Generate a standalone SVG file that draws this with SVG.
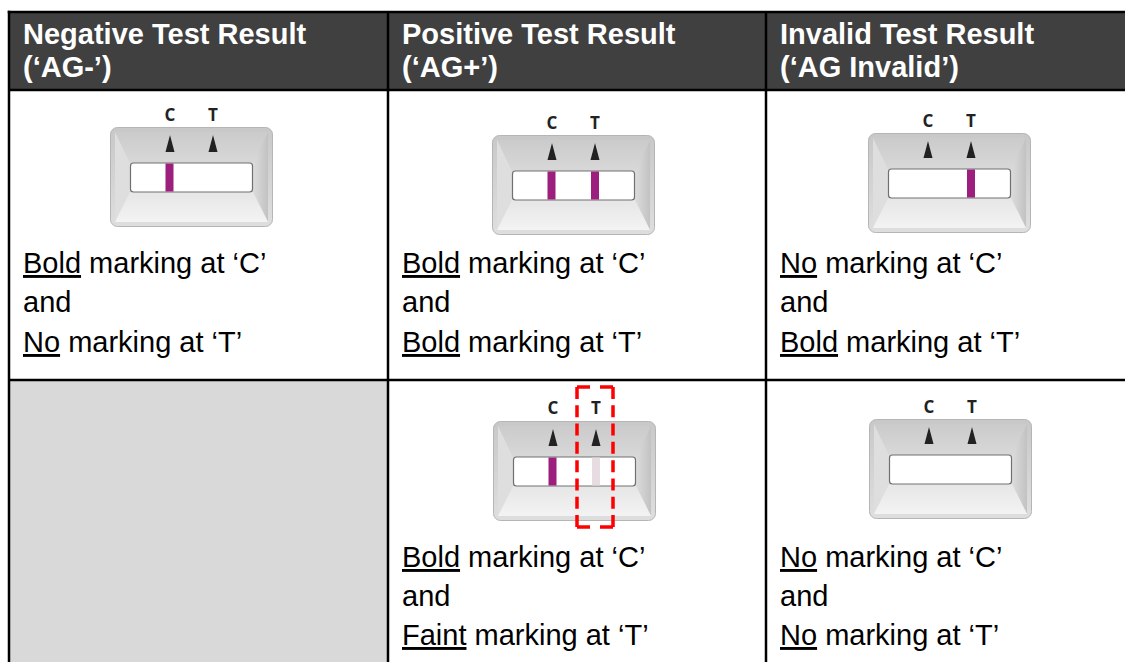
<svg xmlns="http://www.w3.org/2000/svg" width="1125" height="662" viewBox="0 0 1125 662">
<style>
.hd{font-family:"Liberation Sans",Arial,sans-serif;font-weight:bold;font-size:29px;fill:#fff}
.bd{font-family:"Liberation Sans",Arial,sans-serif;font-size:29px;fill:#000}
.u{text-decoration:underline}
.ct{font-family:"Open Sans","DejaVu Sans",sans-serif;font-weight:bold;font-size:17px;fill:#222;text-anchor:middle}
.grid{stroke:#000;stroke-width:2.5;fill:none}
.boldline{fill:#9c1f7e}
.faintline{fill:#e6dce2}
.dash{stroke:#ff0000;stroke-width:3.5;fill:none}
</style>
<defs>
<linearGradient id="gBody" x1="0" y1="0" x2="0" y2="1"><stop offset="0" stop-color="#c8c8c8"/><stop offset="1" stop-color="#dedede"/></linearGradient>
<linearGradient id="gTop" x1="0" y1="0" x2="0" y2="1"><stop offset="0" stop-color="#cbcbcb"/><stop offset="1" stop-color="#d8d8d8"/></linearGradient>
<linearGradient id="gRight" x1="0" y1="0" x2="1" y2="0"><stop offset="0" stop-color="#dcdcdc"/><stop offset="1" stop-color="#c2c2c2"/></linearGradient>
<linearGradient id="gBot" x1="0" y1="0" x2="0" y2="1"><stop offset="0" stop-color="#e6e6e6"/><stop offset="1" stop-color="#f3f3f3"/></linearGradient>
<g id="cas">
<rect x="0.5" y="0.5" width="162" height="99" rx="7" fill="url(#gBody)" stroke="#b5b5b5"/>
<polygon points="5,5 158,5 143,36 20,36" fill="url(#gTop)"/>
<polygon points="5,5 20,36 20,65 5,95" fill="#dedede"/>
<polygon points="158,5 158,95 143,65 143,36" fill="url(#gRight)"/>
<polygon points="20,65 143,65 158,95 5,95" fill="url(#gBot)"/>
<rect x="20.5" y="36" width="122" height="29" rx="3" fill="#fff" stroke="#707070" stroke-width="1.2"/>
<path d="M60,8 L55.5,25 L64.5,25Z" fill="#222"/>
<path d="M103,8 L98.5,25 L107.5,25Z" fill="#222"/>
</g>
</defs>

<rect width="1125" height="662" fill="#fff"/>

<g id="header">
<rect x="9" y="12" width="1116" height="78" fill="#404040"/>
<text class="hd" x="23" y="44">Negative Test Result</text>
<text class="hd" x="23" y="77">(‘AG-’)</text>
<text class="hd" x="402" y="44">Positive Test Result</text>
<text class="hd" x="402" y="77">(‘AG+’)</text>
<text class="hd" x="780" y="44">Invalid Test Result</text>
<text class="hd" x="780" y="77">(‘AG Invalid’)</text>
</g>

<g id="cell-empty">
<rect x="9" y="381" width="379" height="281" fill="#d9d9d9"/>
</g>

<g id="cell-negative">
<use href="#cas" x="110" y="127"/>
<rect class="boldline" x="165.5" y="163.5" width="8" height="28"/>
<text class="ct" x="170" y="121">C</text>
<text class="ct" x="213" y="121">T</text>
<text class="bd" x="23" y="273"><tspan class="u">Bold</tspan> marking at ‘C’</text>
<text class="bd" x="23" y="312">and</text>
<text class="bd" x="23" y="352"><tspan class="u">No</tspan> marking at ‘T’</text>
</g>

<g id="cell-positive">
<use href="#cas" x="492" y="135"/>
<rect class="boldline" x="547.5" y="171.5" width="8" height="28"/>
<rect class="boldline" x="591" y="171.5" width="8" height="28"/>
<text class="ct" x="552" y="129">C</text>
<text class="ct" x="595" y="129">T</text>
<text class="bd" x="402" y="273"><tspan class="u">Bold</tspan> marking at ‘C’</text>
<text class="bd" x="402" y="312">and</text>
<text class="bd" x="402" y="352"><tspan class="u">Bold</tspan> marking at ‘T’</text>
</g>

<g id="cell-invalid">
<use href="#cas" x="868" y="133"/>
<rect class="boldline" x="967" y="169.5" width="8" height="28"/>
<text class="ct" x="928" y="127">C</text>
<text class="ct" x="971" y="127">T</text>
<text class="bd" x="780" y="273"><tspan class="u">No</tspan> marking at ‘C’</text>
<text class="bd" x="780" y="312">and</text>
<text class="bd" x="780" y="352"><tspan class="u">Bold</tspan> marking at ‘T’</text>
</g>

<g id="cell-positive-faint">
<use href="#cas" x="493" y="421"/>
<rect class="boldline" x="548.5" y="457.5" width="8" height="28"/>
<rect class="faintline" x="592" y="457.5" width="8" height="28"/>
<text class="ct" x="553" y="414">C</text>
<text class="ct" x="596" y="414">T</text>
<text class="bd" x="402" y="567"><tspan class="u">Bold</tspan> marking at ‘C’</text>
<text class="bd" x="402" y="606">and</text>
<text class="bd" x="402" y="645"><tspan class="u">Faint</tspan> marking at ‘T’</text>
</g>

<g id="highlight">
<path class="dash" d="M577,387 H613" stroke-dasharray="13 10"/>
<path class="dash" d="M577,527 H613" stroke-dasharray="13 10"/>
<path class="dash" d="M577,387 V527" stroke-dasharray="12 6.29"/>
<path class="dash" d="M613,387 V527" stroke-dasharray="12 6.29"/>
</g>

<g id="cell-invalid-none">
<use href="#cas" x="869" y="419"/>
<text class="ct" x="929" y="413">C</text>
<text class="ct" x="972" y="413">T</text>
<text class="bd" x="780" y="567"><tspan class="u">No</tspan> marking at ‘C’</text>
<text class="bd" x="780" y="606">and</text>
<text class="bd" x="780" y="645"><tspan class="u">No</tspan> marking at ‘T’</text>
</g>

<g id="connectors"></g>

<g id="grid" class="grid">
<line x1="7.75" y1="12" x2="1125" y2="12"/>
<line x1="9" y1="90" x2="1125" y2="90"/>
<line x1="9" y1="380" x2="1125" y2="380"/>
<line x1="9" y1="10.75" x2="9" y2="662"/>
<line x1="388" y1="12" x2="388" y2="662"/>
<line x1="766" y1="12" x2="766" y2="662"/>
</g>
</svg>
